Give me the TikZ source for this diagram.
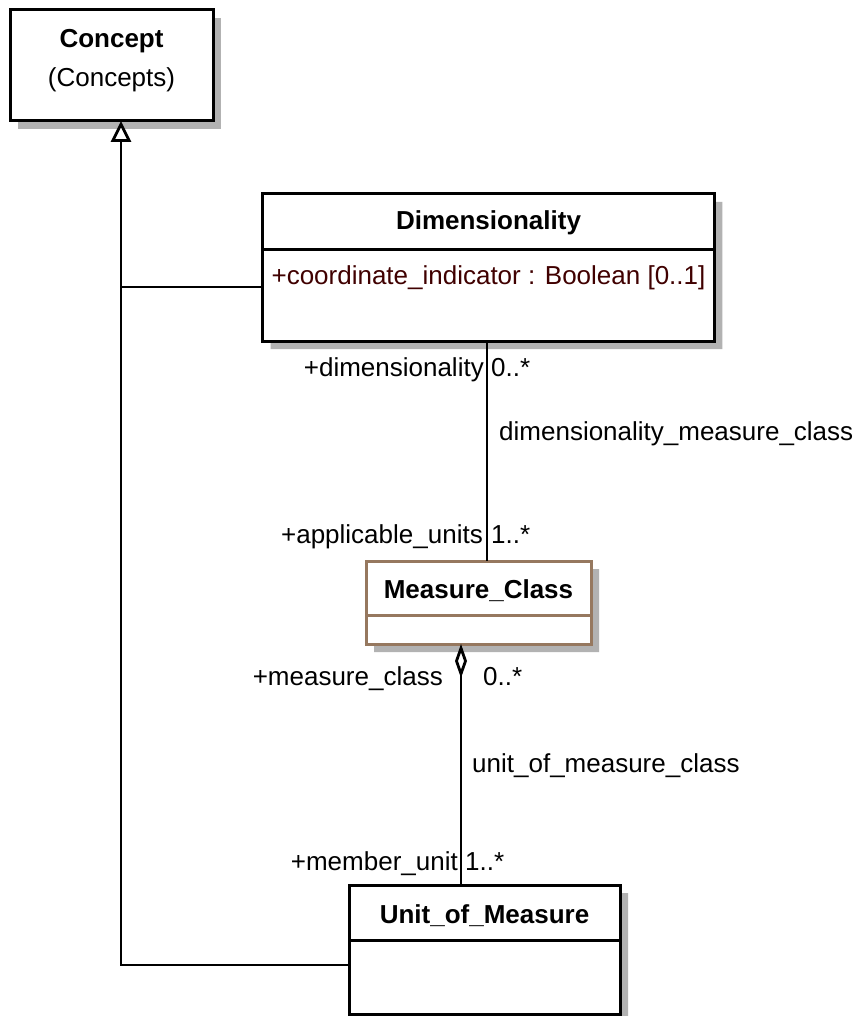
\documentclass[tikz,border=0pt]{standalone}
\usepackage{fontspec}
\setmainfont{Liberation Sans}
\usetikzlibrary{shapes.multipart,shadows,arrows.meta}

\definecolor{attrred}{RGB}{64,0,0}
\definecolor{mcbrown}{RGB}{150,120,95}
\newcommand{\partstrut}[2]{\rule[-#2pt]{0pt}{#1pt}}

\tikzset{
  umlshadow/.style={drop shadow={shadow xshift=8pt,shadow yshift=-8pt,fill=black!30,opacity=1}},
  umlclass/.style={rectangle split,rectangle split parts=2,draw,fill=white,line width=3pt,
    inner xsep=9pt,inner ysep=0pt,outer sep=0pt,rectangle split part align={center,left},umlshadow},
  conceptbox/.style={draw,fill=white,line width=3pt,align=center,inner xsep=9pt,inner ysep=0pt,
    outer sep=0pt,minimum width=203pt,umlshadow},
  rolelabel/.style={inner sep=0pt},
  umlline/.style={line width=2.8pt},
  genline/.style={umlline,-{Triangle[fill=white,length=21pt,width=20pt]}},
  aggrline/.style={umlline,{Diamond[fill=white,length=34pt,width=12pt]}-}
}

\begin{document}
\begin{tikzpicture}[x=1pt,y=-1pt]
    \tikzstyle{every node}=[font=\fontsize{26}{39}\selectfont]
    \path[fill=white] (0,0) rectangle (859,1016);
    \useasboundingbox (0,0) rectangle (859,1016);

    \node[conceptbox] (concept) at (111.5,65.5)
        {\textbf{\rule{0pt}{38pt}Concept}\\\rule[-34pt]{0pt}{34pt}(Concepts)};
    \node[umlclass,minimum width=449pt,anchor=north] (dim) at (488.5,194)
        {\bfseries\partstrut{52}{18}Dimensionality
         \nodepart{second}\color{attrred}\partstrut{89}{55}+coordinate\_indicator : Boolean [0..1]};
    \node[umlclass,draw=mcbrown,minimum width=225pt,anchor=north] (mc) at (478.5,561)
        {\bfseries\partstrut{51}{15}Measure\_Class\nodepart{second}\partstrut{26}{0}};
    \node[umlclass,minimum width=271pt,anchor=north] (uom) at (484.5,885)
        {\bfseries\partstrut{52}{15}Unit\_of\_Measure\nodepart{second}\partstrut{71}{0}};

    \coordinate (genjoin) at (121,287);
    \coordinate (genfoot) at (121,965);
    \draw[genline] (uom.west |- genfoot) -- (genfoot) -- (genjoin |- concept.south);
    \draw[umlline] (dim.west |- genjoin) -- (genjoin);

    \draw[umlline] ([xshift=-1.5pt]dim.south) -- ([xshift=-1.5pt]dim.south |- mc.north);
    \node[rolelabel,anchor=base east] (dimrole) at (484,376.5) {+dimensionality};
    \node[rolelabel,anchor=base west] (dimmult) at (491,376.5) {0..*};
    \node[rolelabel,anchor=base west] (dimmcname) at (499,440) {dimensionality\_measure\_class};
    \node[rolelabel,anchor=base east] (mcrole) at (483,543) {+applicable\_units};
    \node[rolelabel,anchor=base west] (mcmult) at (491,543) {1..*};

    \draw[aggrline] ([xshift=-17.5pt]mc.south) -- ([xshift=-17.5pt]mc.south |- uom.north);
    \node[rolelabel,anchor=base east] (aggrole) at (443,685) {+measure\_class};
    \node[rolelabel,anchor=base west] (aggmult) at (483,685) {0..*};
    \node[rolelabel,anchor=base west] (uommcname) at (472,772) {unit\_of\_measure\_class};
    \node[rolelabel,anchor=base east] (uomrole) at (458,870) {+member\_unit};
    \node[rolelabel,anchor=base west] (uommult) at (465,870) {1..*};
\end{tikzpicture}
\end{document}
